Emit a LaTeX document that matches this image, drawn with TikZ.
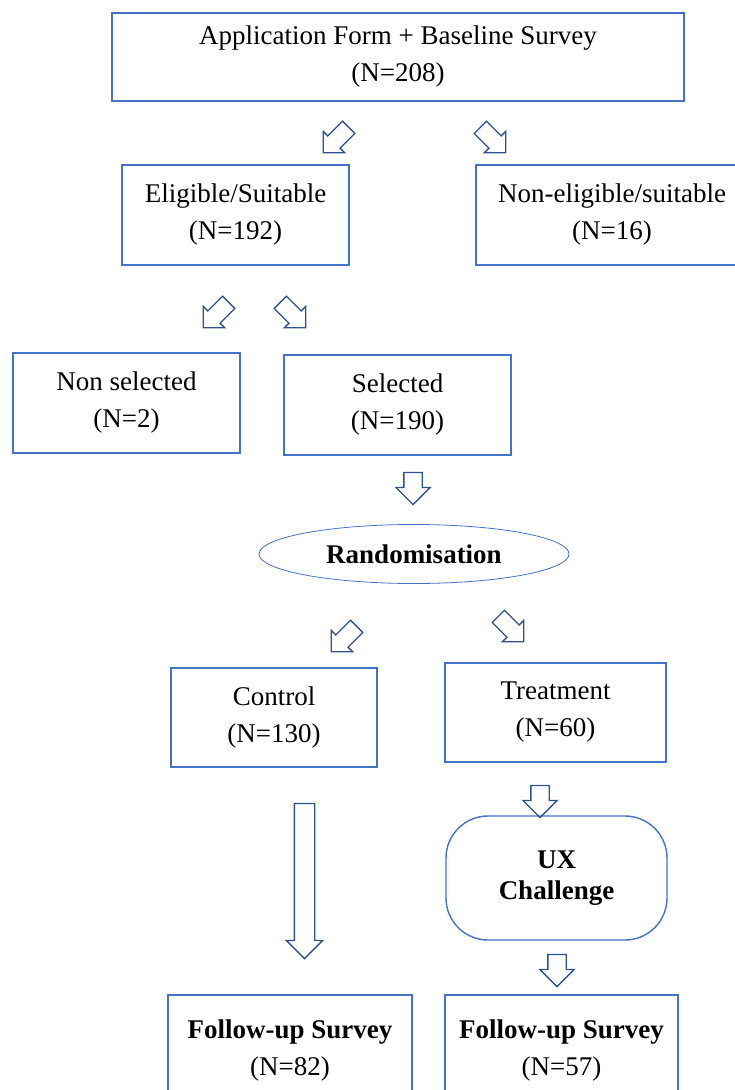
\documentclass[tikz,border=0pt]{standalone}
\usepackage{fontspec}
\setmainfont{Liberation Serif}
\newfontfamily\boxfont{Liberation Serif}
\usetikzlibrary{shapes.geometric, shapes.arrows}
\definecolor{boxblue}{HTML}{4472C4}
\definecolor{arrowblue}{HTML}{2F528F}
\tikzset{
  box/.style={draw=boxblue, line width=1.4pt, align=center, inner sep=0pt,
    font=\boxfont\fontsize{27}{37}\selectfont},
  downarrow/.style={single arrow, draw=arrowblue, line width=1.3pt, rotate=-90,
    minimum height=32pt, minimum width=0pt, single arrow head extend=8pt,
    single arrow head indent=0pt, inner xsep=0pt, inner ysep=8.5pt},
  diagarrow/.style={single arrow, draw=arrowblue, line width=1.3pt,
    minimum height=36pt, minimum width=0pt, single arrow head extend=6.5pt,
    single arrow head indent=0pt, inner xsep=0pt, inner ysep=8pt},
}
\begin{document}
\begin{tikzpicture}[x=1pt, y=-1pt]
    \useasboundingbox (0,0) rectangle (735,1090);
    \begin{scope}
    \clip (0,0) rectangle (735,1090);
    % boxes
    \node [box, minimum width=572pt, minimum height=88pt] (form) at (398,57)
      {Application Form + Baseline Survey\\(N=208)};
    \node [box, minimum width=227pt, minimum height=100pt] (elig) at (235.5,215)
      {Eligible/Suitable\\(N=192)};
    \node [box, minimum width=272pt, minimum height=100pt] (nonelig) at (612,215)
      {Non-eligible/suitable\\(N=16)};
    \node [box, minimum width=227pt, minimum height=100pt] (nonsel) at (126.5,403)
      {Non selected\\(N=2)};
    \node [box, minimum width=227pt, minimum height=100pt] (sel) at (397.5,405)
      {Selected\\(N=190)};
    \node [ellipse, draw=boxblue, line width=0.8pt, minimum width=310pt, minimum height=59pt,
      inner sep=0pt, font=\boxfont\fontsize{27}{30}\selectfont\bfseries] (rand) at (414,554)
      {Randomisation};
    \node [box, minimum width=206pt, minimum height=99pt] (control) at (274,717.5)
      {Control\\(N=130)};
    \node [box, minimum width=221pt, minimum height=99pt] (treat) at (555.5,712.5)
      {Treatment\\(N=60)};
    \node [box, rounded corners=42pt, minimum width=221pt, minimum height=124pt,
      font=\boxfont\fontsize{27}{31}\selectfont\bfseries] (ux) at (556.5,878)
      {UX\\Challenge};
    \node [box, minimum width=244pt, minimum height=110pt] (followc) at (290,1050)
      {\textbf{Follow-up Survey}\\(N=82)};
    \node [box, minimum width=233pt, minimum height=110pt] (followt) at (561.5,1050)
      {\textbf{Follow-up Survey}\\(N=57)};
    \end{scope}
    % block arrows
    \node [diagarrow, rotate=-135] (a1) at (339,137) {};
    \node [diagarrow, rotate=-45] (a2) at (490,137) {};
    \node [diagarrow, rotate=-135] (a3) at (219,312) {};
    \node [diagarrow, rotate=-45] (a4) at (290,312) {};
    \node [downarrow] (a5) at (413,484) {};
    \node [diagarrow, rotate=-135] (a6) at (347,636) {};
    \node [diagarrow, rotate=-45] (a7) at (508,626) {};
    \node [downarrow] (a8) at (540,797) {};
    \node [downarrow, minimum height=155pt, inner ysep=9.5pt] (a9) at (304.5,876) {};
    \node [downarrow] (a10) at (557,966) {};
\end{tikzpicture}
\end{document}
